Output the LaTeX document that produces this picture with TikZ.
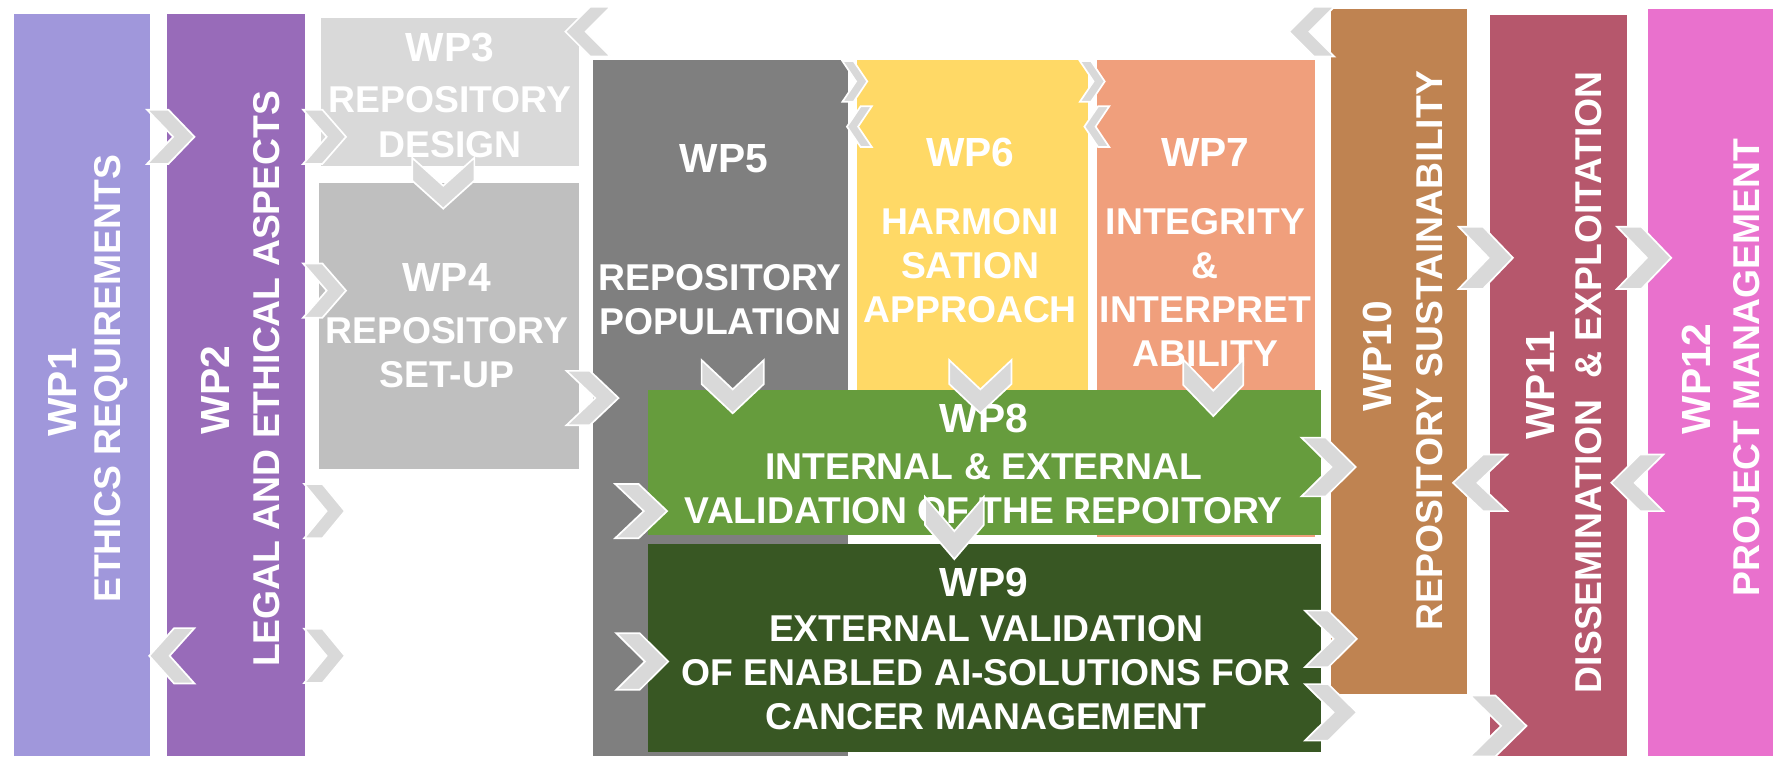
\documentclass[tikz,border=0pt]{standalone}
\usepackage{fontspec}
\setmainfont{Liberation Sans}
\definecolor{cwpa}{HTML}{A097DB}
\definecolor{cwpb}{HTML}{986BB9}
\definecolor{cwpc}{HTML}{D9D9D9}
\definecolor{cwpd}{HTML}{BFBFBF}
\definecolor{cwpe}{HTML}{7F7F7F}
\definecolor{cwpf}{HTML}{FFD966}
\definecolor{cwpg}{HTML}{F09F7C}
\definecolor{cwph}{HTML}{669C3D}
\definecolor{cwpi}{HTML}{385723}
\definecolor{cwpj}{HTML}{BF8351}
\definecolor{cwpk}{HTML}{B6576C}
\definecolor{cwpl}{HTML}{E971CD}
\definecolor{chevgray}{HTML}{D9D9D9}
\begin{document}
\begin{tikzpicture}[x=1pt,y=-1pt,
  box/.style={draw=none, inner sep=0pt, outer sep=0pt, anchor=north west},
  wplab/.style={text=white, inner sep=0pt, font=\fontsize{36}{40}\selectfont\bfseries},
  wptext/.style={text=white, inner sep=0pt, align=center, font=\fontsize{33}{39}\selectfont\bfseries},
  chevfill/.style={fill=chevgray, draw=white, line width=1.5pt, line join=miter},
  pics/chev/.style n args={3}{code={\path[chevfill,rotate=#1] (-#2/2,-#3/2) -- (-0.05*#2,-#3/2) -- (#2/2,0) -- (-0.05*#2,#3/2) -- (-#2/2,#3/2) -- (0.05*#2,0) -- cycle;}}
]
\useasboundingbox[fill=white] (0,0) rectangle (1568,669);

% boxes
\node[box, fill=cwpa, minimum width=121pt, minimum height=657pt] (wp1) at (12,12) {};
\node[box, fill=cwpb, minimum width=122pt, minimum height=657pt] (wp2) at (148,12) {};
\node[box, fill=cwpc, minimum width=228pt, minimum height=131pt] (wp3) at (284,16) {};
\node[box, fill=cwpd, minimum width=230pt, minimum height=253pt] (wp4) at (282,162) {};
\node[box, fill=cwpe, minimum width=226pt, minimum height=616pt] (wp5) at (524,53) {};
\node[box, fill=cwpf, minimum width=204pt, minimum height=407pt] (wp6) at (758,53) {};
\node[box, fill=cwpg, minimum width=193pt, minimum height=422pt] (wp7) at (970,53) {};
\node[box, fill=cwph, minimum width=595pt, minimum height=128pt] (wp8) at (573,345) {};
\node[box, fill=cwpi, minimum width=595pt, minimum height=184pt] (wp9) at (573,481) {};
\node[box, fill=cwpj, minimum width=120pt, minimum height=606pt] (wp10) at (1177,8) {};
\node[box, fill=cwpk, minimum width=121pt, minimum height=656pt] (wp11) at (1318,13) {};
\node[box, fill=cwpl, minimum width=111pt, minimum height=661pt] (wp12) at (1457,8) {};

% texts
\node[wplab, rotate=90] (t1a) at (55,347) {WP1};
\node[wptext, rotate=90] (t1b) at (98,335) {ETHICS REQUIREMENTS};
\node[wplab, rotate=90] (t2a) at (190,345) {WP2};
\node[wptext, rotate=90] (t2b) at (236,335) {LEGAL AND ETHICAL ASPECTS};
\node[wplab] (t3a) at (398,42) {WP3};
\node[wptext] (t3b) at (398,108) {REPOSITORY\\DESIGN};
\node[wplab] (t4a) at (395,245) {WP4};
\node[wptext] (t4b) at (395,312) {REPOSITORY\\SET-UP};
\node[wplab] (t5a) at (640,140) {WP5};
\node[wptext] (t5b) at (637,265) {REPOSITORY\\POPULATION};
\node[wplab] (t6a) at (858,135) {WP6};
\node[wptext] (t6b) at (858,235) {HARMONI\\SATION\\APPROACH};
\node[wplab] (t7a) at (1066,135) {WP7};
\node[wptext] (t7b) at (1066,254) {INTEGRITY\\\&\\INTERPRET\\ABILITY};
\node[wplab] (t8a) at (870,370) {WP8};
\node[wptext] (t8b) at (870,432) {INTERNAL \& EXTERNAL\\VALIDATION OF THE REPOITORY};
\node[wplab] (t9a) at (870,515) {WP9};
\node[wptext] (t9b) at (872,595) {EXTERNAL VALIDATION\\OF ENABLED AI-SOLUTIONS FOR\\CANCER MANAGEMENT};
\node[wplab, rotate=90] (t10a) at (1218,315) {WP10};
\node[wptext, rotate=90] (t10b) at (1264,310) {REPOSITORY SUSTAINABILITY};
\node[wplab, rotate=90] (t11a) at (1362,341) {WP11};
\node[wptext, rotate=90] (t11b) at (1405,338) {DISSEMINATION\ \ \& EXPLOITATION};
\node[wplab, rotate=90] (t12a) at (1500,335) {WP12};
\node[wptext, rotate=90] (t12b) at (1545,325) {PROJECT MANAGEMENT};

% chevrons: right-pointing
\pic at (151,121) {chev={0}{42}{48}};
\pic at (287,121) {chev={0}{38}{48}};
\pic at (287,257) {chev={0}{38}{48}};
\pic at (287,452) {chev={0}{36}{48}};
\pic at (287,580) {chev={0}{36}{48}};
\pic at (524,352) {chev={0}{46}{48}};
\pic at (567,452) {chev={0}{46}{48}};
\pic at (568,585) {chev={0}{46}{50}};
\pic at (1175,413) {chev={0}{48}{52}};
\pic at (1177,565) {chev={0}{46}{50}};
\pic at (1177,630) {chev={0}{46}{50}};
\pic at (1314,228) {chev={0}{48}{55}};
\pic at (1454,228) {chev={0}{48}{55}};
\pic at (1325,642) {chev={0}{50}{54}};
% left-pointing
\pic at (152,580) {chev={180}{40}{49}};
\pic at (520,28) {chev={180}{40}{44}};
\pic at (1160,28) {chev={180}{40}{44}};
\pic at (1309,427) {chev={180}{48}{50}};
\pic at (1448,427) {chev={180}{46}{50}};
% down-pointing
\pic at (392,162) {chev={-90}{45}{55}};
\pic at (648,342) {chev={-90}{47}{55}};
\pic at (867,342) {chev={-90}{47}{55}};
\pic at (1073,343) {chev={-90}{50}{53}};
\pic at (844,467) {chev={-90}{55}{52}};
% small
\pic at (756,72) {chev={0}{22}{36}};
\pic at (760,112) {chev={180}{22}{36}};
\pic at (966,72) {chev={0}{22}{36}};
\pic at (970,112) {chev={180}{22}{36}};
\end{tikzpicture}
\end{document}
